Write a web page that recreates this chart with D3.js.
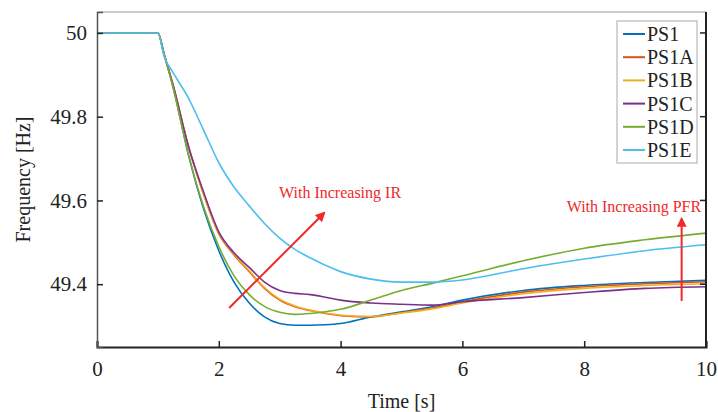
<!DOCTYPE html>
<html>
<head>
<meta charset="utf-8">
<script src="https://cdn.jsdelivr.net/npm/d3@7"></script>
<style>
  body { margin: 0; background: #fff; }
  svg { display: block; }
</style>
</head>
<body>
<svg id="chart" width="718" height="412"></svg>
<script>
// time samples [s]
const time = [0, 1, 1.1, 1.25, 1.5, 1.75, 2, 2.25, 2.5, 2.75, 3, 3.25, 3.5, 3.75, 4, 4.5, 5, 5.5, 6, 7, 8, 9, 10];

const ps1  = [50, 50, 49.95, 49.87, 49.71, 49.58, 49.48, 49.405, 49.355, 49.322, 49.306, 49.302, 49.302, 49.303, 49.306, 49.322, 49.334, 49.346, 49.362, 49.385, 49.397, 49.404, 49.409];
const ps1a = [50, 50, 49.95, 49.875, 49.73, 49.615, 49.52, 49.47, 49.43, 49.39, 49.362, 49.346, 49.337, 49.33, 49.325, 49.322, 49.332, 49.343, 49.358, 49.381, 49.394, 49.401, 49.406];
const ps1b = [50, 50, 49.95, 49.875, 49.73, 49.615, 49.522, 49.472, 49.432, 49.392, 49.364, 49.348, 49.338, 49.331, 49.326, 49.323, 49.331, 49.341, 49.355, 49.377, 49.39, 49.397, 49.401];
const ps1c = [50, 50, 49.95, 49.875, 49.73, 49.62, 49.525, 49.475, 49.44, 49.405, 49.385, 49.378, 49.375, 49.369, 49.362, 49.355, 49.352, 49.35, 49.358, 49.368, 49.38, 49.39, 49.394];
const ps1d = [50, 50, 49.95, 49.87, 49.71, 49.585, 49.49, 49.42, 49.375, 49.347, 49.333, 49.328, 49.33, 49.334, 49.34, 49.362, 49.385, 49.402, 49.42, 49.456, 49.486, 49.506, 49.522];
const ps1e = [50, 50, 49.945, 49.905, 49.845, 49.768, 49.69, 49.632, 49.587, 49.545, 49.51, 49.483, 49.463, 49.445, 49.43, 49.412, 49.405, 49.405, 49.41, 49.437, 49.46, 49.48, 49.494];

const seriesNames = ["PS1", "PS1A", "PS1B", "PS1C", "PS1D", "PS1E"];
const seriesValues = [ps1, ps1a, ps1b, ps1c, ps1d, ps1e];
const colors = ["#0072BD", "#D95319", "#EDB120", "#7E2F8E", "#77AC30", "#4DBEEE"];

const xTicks = [0, 2, 4, 6, 8, 10];
const yTicks = [49.4, 49.6, 49.8, 50];

// annotations (data coordinates)
const irArrow = [[2.17, 49.343], [3.73, 49.57]];
const pfrArrow = [[9.6, 49.36], [9.6, 49.556]];
const irLabel = { t: 2.99, f: 49.607, text: "With Increasing IR" };
const pfrLabel = { t: 9.92, f: 49.572, text: "With Increasing PFR" };

const width = 718, height = 412;
const margin = { top: 12, right: 12, bottom: 65, left: 97 };
const font = "'Liberation Serif', 'Times New Roman', serif";

const svg = d3.select("#chart");

const x = d3.scaleLinear().domain([0, 10]).range([margin.left, width - margin.right]);
const y = d3.scaleLinear().domain([49.25, 50.05]).range([height - margin.bottom, margin.top]);

// arrowhead
svg.append("defs").append("marker")
  .attr("id", "head")
  .attr("viewBox", "0 0 10 10")
  .attr("refX", 8).attr("refY", 5)
  .attr("markerWidth", 5).attr("markerHeight", 5)
  .attr("orient", "auto")
  .append("path")
  .attr("d", "M0,0 L10,5 L0,10 Z")
  .attr("fill", "#ee2a2a");

// lines
const line = d3.line()
  .x((d, i) => x(time[i]))
  .y(d => y(d))
  .curve(d3.curveMonotoneX);

svg.append("g")
  .selectAll("path")
  .data(seriesValues)
  .join("path")
  .attr("fill", "none")
  .attr("stroke", (d, i) => colors[i])
  .attr("stroke-width", 1.6)
  .attr("stroke-linejoin", "round")
  .attr("d", line);

// frame: top and right edges
svg.append("line")
  .attr("x1", x(0)).attr("x2", x(10)).attr("y1", y(50.05)).attr("y2", y(50.05))
  .attr("stroke", "#999").attr("stroke-width", 1);
svg.append("line")
  .attr("x1", x(10)).attr("x2", x(10)).attr("y1", y(50.05)).attr("y2", y(49.25))
  .attr("stroke", "#222").attr("stroke-width", 2);

// right ticks
svg.append("g")
  .selectAll("line")
  .data(yTicks)
  .join("line")
  .attr("x1", x(10)).attr("x2", x(10) - 6)
  .attr("y1", d => y(d)).attr("y2", d => y(d))
  .attr("stroke", "#222").attr("stroke-width", 1.5);

// axes
const xAxis = g => g
  .attr("transform", `translate(0,${height - margin.bottom})`)
  .call(d3.axisBottom(x).tickValues(xTicks).tickSize(-6).tickPadding(14).tickFormat(d3.format("d")))
  .call(g => g.select(".domain").attr("stroke", "#222").attr("stroke-width", 2))
  .call(g => g.selectAll(".tick line").attr("stroke", "#222").attr("stroke-width", 1.5))
  .attr("font-family", font)
  .attr("font-size", "21px")
  .call(g => g.selectAll("text").attr("fill", "#222"));

const yAxis = g => g
  .attr("transform", `translate(${margin.left},0)`)
  .call(d3.axisLeft(y).tickValues(yTicks).tickSize(-6).tickPadding(10).tickFormat(d => d === 50 ? "50" : d3.format(".1f")(d)))
  .call(g => g.select(".domain").attr("stroke", "#555").attr("stroke-width", 1.5))
  .call(g => g.selectAll(".tick line").attr("stroke", "#222").attr("stroke-width", 1.5))
  .attr("font-family", font)
  .attr("font-size", "21px")
  .call(g => g.selectAll("text").attr("fill", "#222"));

svg.append("g").call(xAxis);
svg.append("g").call(yAxis);

// axis labels
svg.append("text")
  .attr("x", (margin.left + width - margin.right) / 2)
  .attr("y", height - 4)
  .attr("text-anchor", "middle")
  .attr("font-family", font)
  .attr("font-size", "20px")
  .attr("fill", "#222")
  .text("Time [s]");

svg.append("text")
  .attr("transform", "rotate(-90)")
  .attr("x", -(margin.top + height - margin.bottom) / 2)
  .attr("y", 30)
  .attr("text-anchor", "middle")
  .attr("font-family", font)
  .attr("font-size", "20px")
  .attr("fill", "#222")
  .text("Frequency [Hz]");

// annotations
[irArrow, pfrArrow].forEach(a => {
  svg.append("line")
    .attr("x1", x(a[0][0])).attr("y1", y(a[0][1]))
    .attr("x2", x(a[1][0])).attr("y2", y(a[1][1]))
    .attr("stroke", "#ee2a2a")
    .attr("stroke-width", 2)
    .attr("marker-end", "url(#head)");
});

svg.append("text")
  .attr("x", x(irLabel.t)).attr("y", y(irLabel.f))
  .attr("font-family", font).attr("font-size", "16px")
  .attr("fill", "#ee2a2a")
  .text(irLabel.text);

svg.append("text")
  .attr("x", x(pfrLabel.t)).attr("y", y(pfrLabel.f))
  .attr("text-anchor", "end")
  .attr("font-family", font).attr("font-size", "16px")
  .attr("fill", "#ee2a2a")
  .text(pfrLabel.text);

// legend
const legend = svg.append("g").attr("transform", "translate(617,21)");
legend.append("rect")
  .attr("width", 80).attr("height", 142)
  .attr("fill", "#fff")
  .attr("stroke", "#aaa").attr("stroke-width", 1);

const rows = legend.selectAll("g.row")
  .data(seriesNames)
  .join("g")
  .attr("class", "row")
  .attr("transform", (d, i) => `translate(0,${13 + i * 23.2})`);

rows.append("line")
  .attr("x1", 6).attr("x2", 28)
  .attr("stroke", (d, i) => colors[i])
  .attr("stroke-width", 2);

rows.append("text")
  .attr("x", 30).attr("dy", "0.35em")
  .attr("font-family", font).attr("font-size", "20px")
  .attr("fill", "#222")
  .text(d => d);
</script>
</body>
</html>
